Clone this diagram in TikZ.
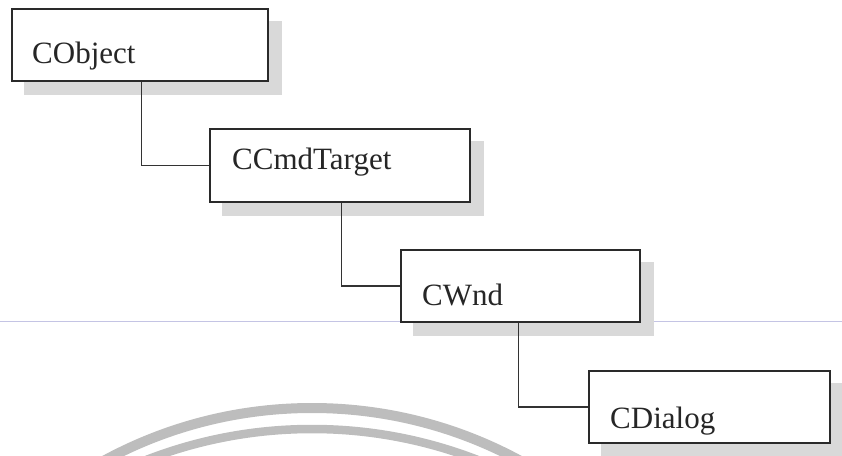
\documentclass[tikz,border=0pt]{standalone}
\usepackage{fontspec}
\setmainfont{Liberation Serif}
\usetikzlibrary{backgrounds}

\definecolor{boxline}{HTML}{2A2A2A}
\definecolor{linkline}{HTML}{333333}
\definecolor{shadowgray}{HTML}{D9D9D9}
\definecolor{ruleblue}{HTML}{C4C4E4}
\definecolor{arcgray}{HTML}{BDBDBD}
\definecolor{labeltext}{HTML}{262626}

\tikzset{
  classbox/.style={draw=boxline, line width=1.6pt, fill=white, inner sep=0pt},
  classlabel/.style={anchor=base west, inner sep=0pt, text=labeltext,
                     font=\fontsize{31}{37}\selectfont},
  link/.style={draw=linkline, line width=1.3pt},
  boxshadow/.style={fill=shadowgray},
  ruleline/.style={draw=ruleblue, line width=0.9pt},
  ring/.style={draw=arcgray},
}

\begin{document}
\begin{tikzpicture}[x=1pt, y=1pt]
  \useasboundingbox (0,0) rectangle (842,455);

  % class boxes
  \node[classbox, minimum width=256pt, minimum height=72pt] (obj) at (140,410) {};
  \node[classbox, minimum width=260pt, minimum height=73pt] (cmd) at (340,289.5) {};
  \node[classbox, minimum width=239pt, minimum height=72pt] (wnd) at (520.5,169) {};
  \node[classbox, minimum width=241pt, minimum height=72pt] (dlg) at (709.5,48) {};

  % class names
  \node[classlabel] (objlabel) at (32,391) {CObject};
  \node[classlabel] (cmdlabel) at (232,285) {CCmdTarget};
  \node[classlabel] (wndlabel) at (422,149) {CWnd};
  \node[classlabel] (dlglabel) at (610,27) {CDialog};

  % inheritance links
  \draw[link] ([xshift=130pt]obj.south west) |- (cmd.west);
  \draw[link] ([xshift=132pt]cmd.south west) |- (wnd.west);
  \draw[link] ([xshift=118pt]wnd.south west) |- (dlg.west);

  \begin{scope}[on background layer]
    % thin rule across the page
    \draw[ruleline] (0,134) -- (842,134);
    % drop shadows
    \foreach \b in {obj,cmd,wnd,dlg}{
      \fill[boxshadow] ([shift={(13pt,-13pt)}]\b.south west)
                       rectangle ([shift={(13pt,-13pt)}]\b.north east);
    }
  \end{scope}

  % two grey arcs along the bottom edge
  \begin{scope}
    \clip (0,0) rectangle (842,455);
    \draw[ring, line width=10pt] (312,-389) circle (436);
    \draw[ring, line width=8.5pt] (312,-431) circle (457);
  \end{scope}
\end{tikzpicture}
\end{document}
